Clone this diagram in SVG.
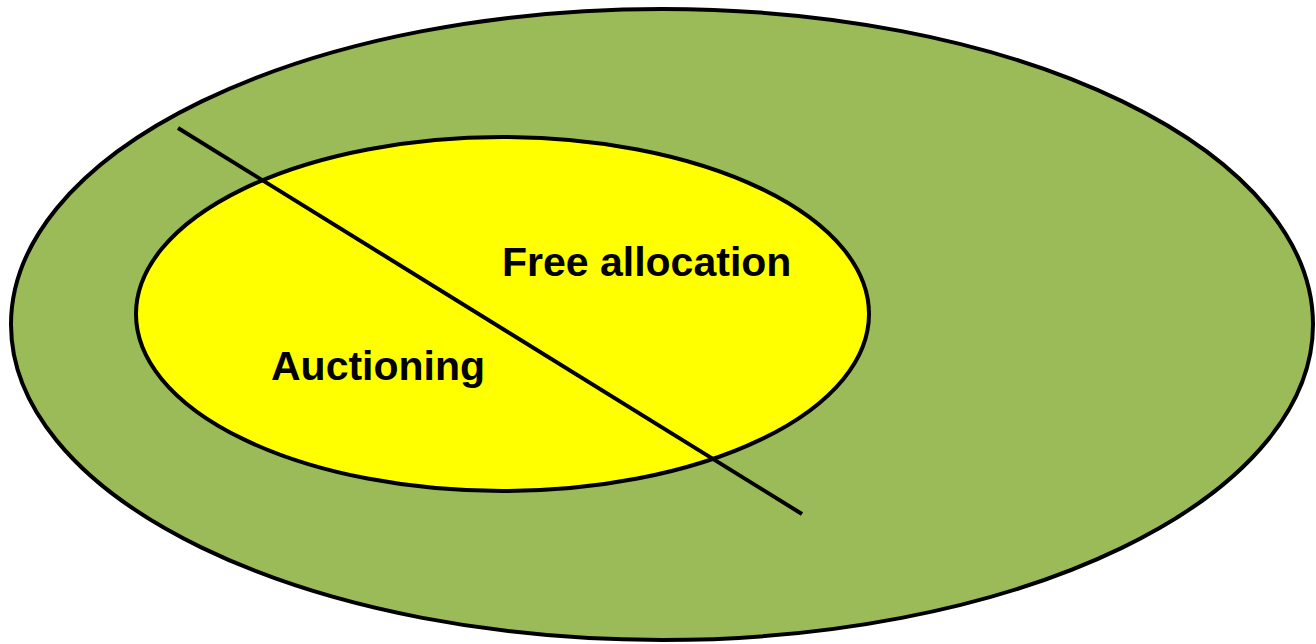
<svg xmlns="http://www.w3.org/2000/svg" width="1316" height="644" viewBox="0 0 1316 644">
  <style>
    .shape { stroke: #000000; stroke-width: 4; }
    .label { font-family: "Liberation Sans", Arial, sans-serif; font-weight: bold; font-size: 41px; fill: #000000; }
  </style>
  <rect x="0" y="0" width="1316" height="644" fill="#ffffff"/>
  <g id="outer">
    <ellipse class="shape" cx="662" cy="324.5" rx="651" ry="315.5" fill="#9bbb59"/>
  </g>
  <g id="inner">
    <ellipse class="shape" cx="502.5" cy="314" rx="366.5" ry="177" fill="#ffff00"/>
  </g>
  <g id="labels">
    <text class="label" x="502" y="276">Free allocation</text>
    <text class="label" x="271" y="380">Auctioning</text>
  </g>
  <g id="connectors">
    <line class="shape" x1="178" y1="128" x2="802" y2="514" stroke-width="4.5"/>
  </g>
</svg>
